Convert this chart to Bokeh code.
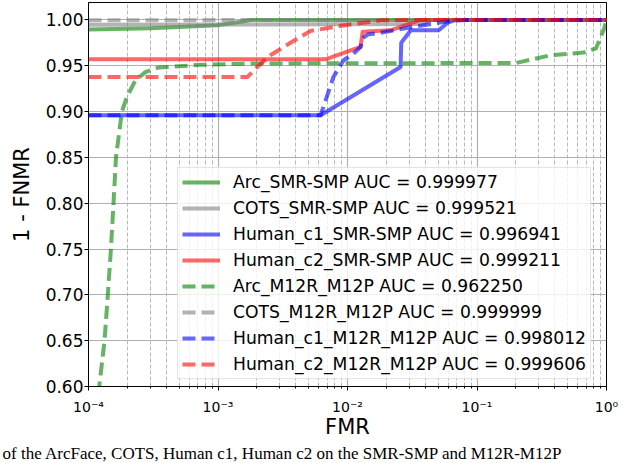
from bokeh.plotting import figure
from bokeh.models import (FixedTicker, NumeralTickFormatter, CustomJSTickFormatter,
                          Legend, LegendItem, Range1d, Title)
from bokeh.embed import file_html
from bokeh.resources import INLINE

# ---------------- data ----------------
arc_smr_fmr = [1e-4, 3e-4, 1e-3, 1.5e-3, 1.8e-3, 1.0]
arc_smr_tpr = [0.9895, 0.991, 0.9943, 0.998, 1.0, 1.0]

cots_smr_fmr = [1e-4, 0.037, 0.045, 1.0]
cots_smr_tpr = [0.9946, 0.9955, 1.0, 1.0]

hc1_smr_fmr = [1e-4, 6.2e-3, 2.57e-2, 2.6e-2, 3.08e-2, 5.06e-2, 5.94e-2, 6.86e-2, 1.0]
hc1_smr_tpr = [0.896, 0.896, 0.9487, 0.975, 0.9888, 0.9888, 0.997, 1.0, 1.0]

hc2_smr_fmr = [1e-4, 6.77e-3, 1.26e-2, 1.31e-2, 2.15e-2, 3.67e-2, 1.0]
hc2_smr_tpr = [0.957, 0.957, 0.9705, 0.987, 0.9887, 1.0, 1.0]

arc_m12_fmr = [1.15e-4, 1.21e-4, 1.33e-4, 1.41e-4, 1.49e-4, 1.56e-4, 1.63e-4, 1.81e-4,
               1.98e-4, 2.30e-4, 2.75e-4, 3.46e-4, 7.3e-4, 2e-3, 0.2, 0.37, 0.668,
               0.83, 0.956, 1.0]
arc_m12_tpr = [0.55, 0.60, 0.65, 0.70, 0.75, 0.80, 0.85, 0.90, 0.916, 0.934, 0.943,
               0.948, 0.951, 0.9525, 0.953, 0.9615, 0.9644, 0.969, 0.99, 1.0]

cots_m12_fmr = [1e-4, 1e-3, 1.0]
cots_m12_tpr = [0.9995, 0.9998, 1.0]

hc1_m12_fmr = [1e-4, 6.2e-3, 7.8e-3, 9.33e-3, 1.11e-2, 1.26e-2, 1.31e-2, 1.43e-2,
               1.80e-2, 3.08e-2, 6.26e-2, 8.5e-2, 1.0]
hc1_m12_tpr = [0.896, 0.896, 0.938, 0.956, 0.963, 0.9705, 0.980, 0.984, 0.986,
               0.992, 0.999, 1.0, 1.0]

hc2_m12_fmr = [1e-4, 1.69e-3, 2.02e-3, 2.54e-3, 3.63e-3, 5.18e-3, 9.33e-3, 1.80e-2,
               3.67e-2, 1.0]
hc2_m12_tpr = [0.9378, 0.9378, 0.949, 0.9615, 0.975, 0.988, 0.994, 0.9995, 1.0, 1.0]

labels = ["Arc_SMR-SMP AUC = 0.999977",
          "COTS_SMR-SMP AUC = 0.999521",
          "Human_c1_SMR-SMP AUC = 0.996941",
          "Human_c2_SMR-SMP AUC = 0.999211",
          "Arc_M12R_M12P AUC = 0.962250",
          "COTS_M12R_M12P AUC = 0.999999",
          "Human_c1_M12R_M12P AUC = 0.998012",
          "Human_c2_M12R_M12P AUC = 0.999606"]

x_ticks = [1e-4, 1e-3, 1e-2, 1e-1, 1.0]
y_ticks = [0.60, 0.65, 0.70, 0.75, 0.80, 0.85, 0.90, 0.95, 1.00]
caption = "of the ArcFace, COTS, Human c1, Human c2 on the SMR-SMP and M12R-M12P"

series = [
    (arc_smr_fmr, arc_smr_tpr, "#008000", "solid"),
    (cots_smr_fmr, cots_smr_tpr, "#808080", "solid"),
    (hc1_smr_fmr, hc1_smr_tpr, "#0000ff", "solid"),
    (hc2_smr_fmr, hc2_smr_tpr, "#ff0000", "solid"),
    (arc_m12_fmr, arc_m12_tpr, "#008000", "13 6"),
    (cots_m12_fmr, cots_m12_tpr, "#808080", "13 6"),
    (hc1_m12_fmr, hc1_m12_tpr, "#0000ff", "13 6"),
    (hc2_m12_fmr, hc2_m12_tpr, "#ff0000", "13 6"),
]

# ---------------- figure ----------------
p = figure(width=640, height=463, x_axis_type="log",
           x_range=Range1d(1e-4, 1.0), y_range=Range1d(0.6, 1.019),
           output_backend="svg", toolbar_location=None,
           min_border_left=88, min_border_right=34,
           min_border_top=2, min_border_bottom=77)

p.outline_line_color = "black"
p.outline_line_width = 1
p.outline_line_alpha = 1.0

items = []
for (xs, ys, col, dash), lab in zip(series, labels):
    r = p.line(xs, ys, line_color=col, line_alpha=0.6, line_width=4,
               line_dash=dash, line_join="round")
    items.append(LegendItem(label=lab, renderers=[r]))

# axes
minor = [m * 10.0 ** k for k in range(-4, 0) for m in range(2, 10)]
p.xaxis.ticker = FixedTicker(ticks=x_ticks, minor_ticks=minor)
p.xaxis.formatter = CustomJSTickFormatter(code="""
const e = Math.round(Math.log10(tick));
const m = {"-":"\\u207b","0":"\\u2070","1":"\\u00b9","2":"\\u00b2","3":"\\u00b3",
           "4":"\\u2074","5":"\\u2075","6":"\\u2076","7":"\\u2077","8":"\\u2078","9":"\\u2079"};
return "10" + String(e).split("").map(c => m[c]).join("");
""")
p.yaxis.ticker = FixedTicker(ticks=y_ticks)
p.yaxis.formatter = NumeralTickFormatter(format="0.00")

for ax in (p.xaxis, p.yaxis):
    ax.axis_line_color = "black"
    ax.major_tick_line_color = "black"
    ax.major_tick_in = 0
    ax.major_tick_out = 4
    ax.minor_tick_in = 0
    ax.minor_tick_out = 2
    ax.major_label_text_color = "black"
    ax.major_label_text_font = "DejaVu Sans"
    ax.axis_label_text_font = "DejaVu Sans"
    ax.axis_label_text_font_size = "21px"
    ax.axis_label_text_font_style = "normal"
    ax.axis_label_text_color = "black"

p.xaxis.major_label_text_font_size = "14px"
p.xaxis.major_label_standoff = 8
p.xaxis.axis_label = "FMR"
p.xaxis.axis_label_standoff = -3
p.xaxis.minor_tick_line_color = "black"

p.yaxis.major_label_text_font_size = "17px"
p.yaxis.major_label_standoff = 1
p.yaxis.axis_label = "1 - FNMR"
p.yaxis.axis_label_standoff = 9
p.yaxis.minor_tick_line_color = None

# grids
p.xgrid.grid_line_color = "#b0b0b0"
p.xgrid.grid_line_width = 1.2
p.xgrid.minor_grid_line_color = "#b8b8b8"
p.xgrid.minor_grid_line_dash = "4 2"
p.xgrid.minor_grid_line_width = 1
p.ygrid.grid_line_color = "#b0b0b0"
p.ygrid.grid_line_width = 1.2

# legend
legend = Legend(items=items, location=(89, 7), margin=0, padding=4, spacing=6,
                glyph_width=38, glyph_height=20, label_height=20, label_width=345,
                label_standoff=13, label_text_font="DejaVu Sans",
                label_text_font_size="17.2px", label_text_color="black",
                border_line_color="#cccccc", border_line_width=1,
                background_fill_color="white", background_fill_alpha=0.8)
p.add_layout(legend)

# caption fragment below the chart
cap = Title(text=caption, align="left", offset=-86, standoff=0,
            text_font="Liberation Serif", text_font_size="17px",
            text_font_style="normal", text_color="black")
p.add_layout(cap, "below")

open("out.html", "w").write(file_html(p, INLINE))
